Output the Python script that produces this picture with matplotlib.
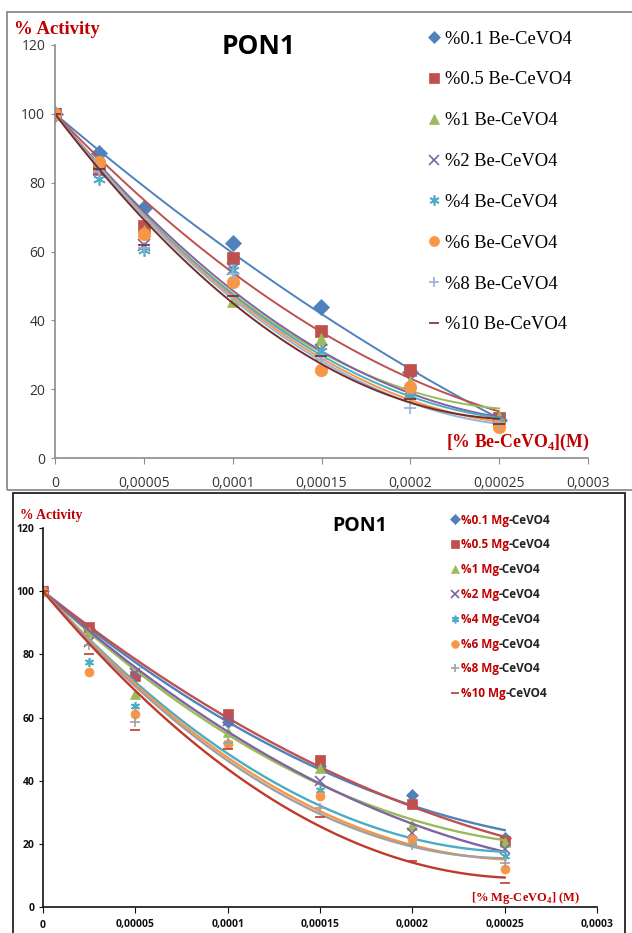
import numpy as np
import matplotlib
matplotlib.use("Agg")
import matplotlib.pyplot as plt
from matplotlib.patches import Rectangle
from matplotlib.ticker import FuncFormatter
from matplotlib.text import Annotation

plt.rcParams["mathtext.fontset"] = "custom"
plt.rcParams["mathtext.rm"] = "Liberation Serif:bold"
plt.rcParams["mathtext.bf"] = "Liberation Serif:bold"

# ---------- data ----------
conc = [0, 0.000025, 0.00005, 0.0001, 0.00015, 0.0002, 0.00025]
doping = ["0.1", "0.5", "1", "2", "4", "6", "8", "10"]

be_activity = {
    "0.1": [100, 88.5, 72.5, 62.5, 44, 25, 11],
    "0.5": [100, 84, 67.5, 58, 37, 25.5, 11.5],
    "1":   [100, 85, 66, 45.5, 34.5, 22, 12],
    "2":   [100, 84, 62, 55, 31.5, 19, 11],
    "4":   [100, 81, 60.5, 54.5, 31, 18, 10.5],
    "6":   [100, 86, 65, 51, 25.5, 20.5, 9],
    "8":   [100, 83, 61, 53.5, 28.5, 14.5, 10],
    "10":  [100, 84, 62, 47, 29.5, 17, 10],
}
mg_activity = {
    "0.1": [100, 88, 73, 58.5, 44.5, 35.5, 22],
    "0.5": [100, 88.5, 73, 61, 46.5, 32.5, 21],
    "1":   [100, 87, 67.5, 55.5, 44, 26, 20.5],
    "2":   [100, 84, 74, 59, 40, 23.5, 18.5],
    "4":   [100, 77.5, 63.5, 52, 37, 21, 16],
    "6":   [100, 74.5, 61, 51.5, 35, 21.5, 12],
    "8":   [100, 83, 58.5, 52, 31.5, 19.5, 14],
    "10":  [100, 80, 56, 50, 28.5, 14.5, 7.5],
}

markers = ["D", "s", "^", "x", (6, 2, 0), "o", "+", "_"]
be_colors = ["#4F81BD", "#C0504D", "#9BBB59", "#8064A2", "#4BACC6",
             "#F79646", "#95B3D7", "#772C2A"]
mg_colors = ["#4F81BD", "#C0504D", "#9BBB59", "#8064A2", "#4BACC6",
             "#F79646", "#A0A0A0", "#C0392B"]

RED = "#C00000"
W, H = 632, 933

fig = plt.figure(figsize=(W / 100, H / 100), dpi=100)

# panel frames
fig.add_artist(Rectangle((7 / W, 1 - 490 / H), 640 / W, 478 / H, transform=fig.transFigure,
                         fill=False, edgecolor="#8C8C8C", linewidth=1.3))
fig.add_artist(Rectangle((13 / W, 1 - 940 / H), 612 / W, 447 / H, transform=fig.transFigure,
                         fill=False, edgecolor="#222222", linewidth=1.3))

comma = FuncFormatter(lambda v, p: "0" if v == 0 else f"{v:.5f}".rstrip("0").replace(".", ","))


def fit_curve(y):
    # 2nd order trendline with the intercept fixed at 100 (as set in Excel)
    x = np.asarray(conc)
    A = np.column_stack([x, x ** 2])
    coef, *_ = np.linalg.lstsq(A, np.asarray(y) - 100, rcond=None)
    xs = np.linspace(0, conc[-1], 200)
    return xs, 100 + coef[0] * xs + coef[1] * xs ** 2


def style_axes(ax, spine_color, lab_kw, pad_x, pad_y):
    for s in ("top", "right"):
        ax.spines[s].set_visible(False)
    for s in ("left", "bottom"):
        ax.spines[s].set_color(spine_color)
        ax.spines[s].set_linewidth(1.2)
    ax.set_xlim(0, 0.0003)
    ax.set_ylim(0, 120)
    ax.set_xticks(np.arange(0, 0.00031, 0.00005))
    ax.set_yticks(range(0, 121, 20))
    ax.xaxis.set_major_formatter(comma)
    ax.tick_params(axis="x", direction="out", length=4, color=spine_color, pad=pad_x)
    ax.tick_params(axis="y", direction="out", length=3, color=spine_color, pad=pad_y)
    for t in ax.get_xticklabels() + ax.get_yticklabels():
        t.set(**lab_kw)
    ax.patch.set_alpha(0)


# ---------- top: Be-CeVO4 ----------
ax1 = fig.add_axes([55 / W, 1 - 458 / H, 533 / W, 413 / H])
handles = []
for d, m, c in zip(doping, markers, be_colors):
    y = be_activity[d]
    ms = 8 if m in ("D",) else 9
    h, = ax1.plot(conc, y, linestyle="none", marker=m, color=c, markersize=ms,
                  markeredgewidth=1.2 if m in ("x", "+", "_", (6, 2, 0)) else 0.5,
                  label=f"%{d} Be-CeVO4")
    xs, ys = fit_curve(y)
    ax1.plot(xs, ys, color=c, linewidth=1.4)
    handles.append(h)
style_axes(ax1, "#8C8C8C", dict(family="Open Sans", fontsize=10, color="#333333"), 9, 4)

leg1 = fig.legend(handles=handles, loc="upper left", bbox_to_anchor=(410 / W, 1 - 14 / H),
                  frameon=False, prop=dict(family="Liberation Serif", size=13.3),
                  labelspacing=1.29, handlelength=0.8, handletextpad=0.2, markerscale=0.8)

fig.text(259 / W, 1 - 46 / H, "PON1", ha="center", va="center", family="Open Sans",
         weight="bold", fontsize=19)
fig.text(14 / W, 1 - 30 / H, "% Activity", ha="left", va="center", family="Liberation Serif",
         weight="bold", fontsize=13.5, color=RED)
fig.text(590 / W, 1 - 442 / H, r"[% Be-CeVO$_\mathrm{4}$](M)", ha="right", va="center",
         family="Liberation Serif", weight="bold", fontsize=12.8, color=RED)

# ---------- bottom: Mg-CeVO4 ----------
ax2 = fig.add_axes([43 / W, 1 - 907 / H, 554 / W, 379 / H])
handles2 = []
for d, m, c in zip(doping, markers, mg_colors):
    y = mg_activity[d]
    h, = ax2.plot(conc, y, linestyle="none", marker=m, color=c,
                  markersize=6.5 if m != "D" else 6,
                  markeredgewidth=1.2 if m in ("x", "+", "_", (6, 2, 0)) else 0.5,
                  label=f"%{d} Mg")
    xs, ys = fit_curve(y)
    ax2.plot(xs, ys, color=c, linewidth=1.7)
    handles2.append(h)
style_axes(ax2, "#111111", dict(family="Open Sans", fontsize=7.5, weight="bold", color="#111111"), 5, 3)

leg2 = fig.legend(handles=handles2, loc="upper left", bbox_to_anchor=(440 / W, 1 - 503 / H),
                  frameon=False, prop=dict(family="Open Sans", size=8.5, weight="bold"),
                  labelspacing=1.0, handlelength=0.7, handletextpad=0.15, markerscale=0.85)
for t in leg2.get_texts():
    t.set_color(RED)
    fig.add_artist(Annotation("-CeVO4", xy=(1, 0), xycoords=t, va="bottom", ha="left",
                              family="Open Sans", weight="bold", fontsize=8.5,
                              color="#222222", zorder=10))

fig.text(360 / W, 1 - 526 / H, "PON1", ha="center", va="center", family="Open Sans",
         weight="bold", fontsize=14)
fig.text(20 / W, 1 - 516 / H, "% Activity", ha="left", va="center", family="Liberation Serif",
         weight="bold", fontsize=9.8, color=RED)
fig.text(580 / W, 1 - 898 / H, r"[% Mg-CeVO$_\mathrm{4}$] (M)", ha="right", va="center",
         family="Liberation Serif", weight="bold", fontsize=9, color=RED)

fig.savefig("out.png", dpi=100)
